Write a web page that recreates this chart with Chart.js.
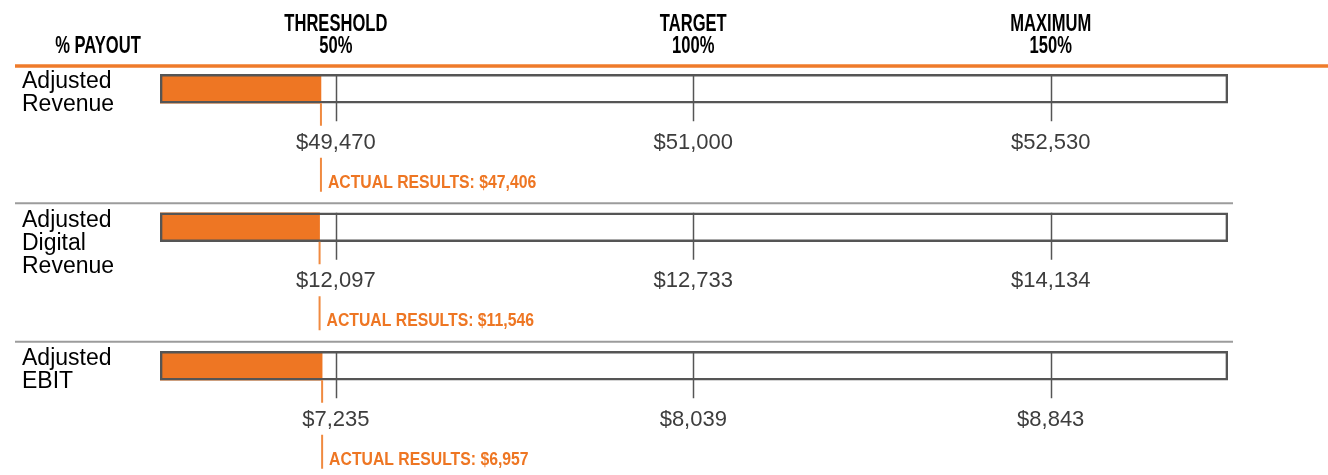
<!DOCTYPE html>
<html lang="en">
<head>
    <meta charset="UTF-8">
    <meta name="viewport" content="width=device-width, initial-scale=1.0">
    <script src="https://cdn.jsdelivr.net/npm/chart.js"></script>
    <title>% Payout</title>
    <style>
        body{margin:0; background:#fff;}
        div{width:1328px; height:475px;}
    </style>
</head>
<body>
    <div>
        <canvas id="myChart" width="1328" height="475"></canvas>
    </div>
    <script>
        // performance measures (rows) and their goal levels, in $ thousands
        const categories = [['Adjusted', 'Revenue'], ['Adjusted', 'Digital', 'Revenue'], ['Adjusted', 'EBIT']];
        const levelNames = ['THRESHOLD', 'TARGET', 'MAXIMUM'];
        const levelPayout = [50, 100, 150];
        const threshold = [49470, 12097, 7235];
        const target = [51000, 12733, 8039];
        const maximum = [52530, 14134, 8843];
        const actual = [47406, 11546, 6957];

        const xMin = 25.4, xMax = 174.8;   // payout % shown across the bar
        const ORANGE = '#EE7623';
        const BOLD = 'bold {s}px "Liberation Sans", Arial, sans-serif';

        // dollars -> payout %, straight lines between 0 / threshold / target / max
        function toPayout(i, v) {
            const dollars = [0, threshold[i], target[i], maximum[i]];
            const pct = [0].concat(levelPayout);
            for (let k = 1; k < dollars.length; k++) {
                if (v <= dollars[k] || k === dollars.length - 1) {
                    const t = (v - dollars[k - 1]) / (dollars[k] - dollars[k - 1]);
                    return pct[k - 1] + t * (pct[k] - pct[k - 1]);
                }
            }
        }

        function money(v) {
            return '$' + v.toLocaleString('en-US');
        }

        function line(ctx, x1, y1, x2, y2, color, width) {
            ctx.beginPath();
            ctx.moveTo(x1, y1);
            ctx.lineTo(x2, y2);
            ctx.strokeStyle = color;
            ctx.lineWidth = width;
            ctx.stroke();
        }

        // no condensed face installed, so squeeze the bold one horizontally
        function squeezed(ctx, text, x, y, sx) {
            ctx.save();
            ctx.translate(x, y);
            ctx.scale(sx, 1);
            ctx.fillText(text, 0, 0);
            ctx.restore();
        }

        const payoutPlugin = {
            id: 'payoutDecor',
            afterDatasetsDraw(chart) {
                const ctx = chart.ctx;
                const xs = chart.scales.x, ys = chart.scales.y;
                const levels = [threshold, target, maximum];
                ctx.save();
                categories.forEach(function (rowName, i) {
                    const cy = ys.getPixelForValue(i);
                    const top = cy - 14.5, bottom = cy + 14.5;

                    // separator above every row but the first
                    if (i > 0) line(ctx, 15, cy - 24, 1233, cy - 24, '#9c9c9c', 2);

                    // row name
                    ctx.font = '23px "Liberation Sans", Arial, sans-serif';
                    ctx.fillStyle = '#000';
                    ctx.textAlign = 'left';
                    ctx.textBaseline = 'middle';
                    rowName.forEach(function (t, k) {
                        ctx.fillText(t, 22, cy - 7 + k * 23);
                    });

                    // goal ticks
                    levelPayout.forEach(function (p) {
                        const px = Math.round(xs.getPixelForValue(p)) + 0.5;
                        line(ctx, px, top, px, bottom + 18, '#555', 1.5);
                    });

                    // actual result marker
                    const ax = xs.getPixelForValue(toPayout(i, actual[i]));
                    line(ctx, ax, bottom, ax, cy + 103, '#F08A40', 2);

                    // goal dollar labels
                    ctx.font = '22px "Liberation Sans", Arial, sans-serif';
                    ctx.textAlign = 'center';
                    levelPayout.forEach(function (p, k) {
                        const px = xs.getPixelForValue(p);
                        const txt = money(levels[k][i]);
                        const w = ctx.measureText(txt).width;
                        ctx.fillStyle = '#fff';
                        ctx.fillRect(px - w / 2 - 2, cy + 37, w + 4, 32);
                        ctx.fillStyle = '#3d3d3d';
                        ctx.fillText(txt, px, cy + 54);
                    });

                    // actual result label
                    ctx.font = BOLD.replace('{s}', 19);
                    ctx.fillStyle = ORANGE;
                    ctx.textAlign = 'left';
                    squeezed(ctx, 'ACTUAL RESULTS: ' + money(actual[i]), ax + 7, cy + 94, 0.83);
                });
                ctx.restore();
            },
            afterDraw(chart) {
                const ctx = chart.ctx;
                const xs = chart.scales.x;
                ctx.save();
                line(ctx, 15, 66, 1328, 66, '#EF7B2B', 3.5);
                ctx.font = BOLD.replace('{s}', 23);
                ctx.fillStyle = '#000';
                ctx.textAlign = 'center';
                ctx.textBaseline = 'middle';
                squeezed(ctx, '% PAYOUT', 98, 47, 0.72);
                levelPayout.forEach(function (p, k) {
                    const px = xs.getPixelForValue(p);
                    squeezed(ctx, levelNames[k], px, 25, 0.72);
                    squeezed(ctx, p + '%', px, 47, 0.72);
                });
                ctx.restore();
            }
        };

        const ctx = document.getElementById('myChart').getContext('2d');
        const myChart = new Chart(ctx, {
            type: 'bar',
            data: {
                labels: categories,
                datasets: [{
                    label: 'Range',
                    data: categories.map(function () { return [xMin, xMax]; }),
                    backgroundColor: 'rgba(0,0,0,0)',
                    borderColor: '#555',
                    borderWidth: 2,
                    borderSkipped: false
                }, {
                    label: 'Actual',
                    data: actual.map(function (v, i) { return [xMin, toPayout(i, v)]; }),
                    backgroundColor: ORANGE,
                    borderWidth: 0
                }]
            },
            options: {
                indexAxis: 'y',
                responsive: false,
                animation: false,
                layout: { padding: { left: 160, right: 100, top: 19.5, bottom: 40 } },
                datasets: { bar: { grouped: false, barThickness: 29 } },
                scales: {
                    x: { type: 'linear', min: xMin, max: xMax, display: false },
                    y: { display: false }
                },
                plugins: {
                    legend: { display: false },
                    tooltip: { enabled: false }
                }
            },
            plugins: [payoutPlugin]
        });//chart
    </script>
</body>
</html>
